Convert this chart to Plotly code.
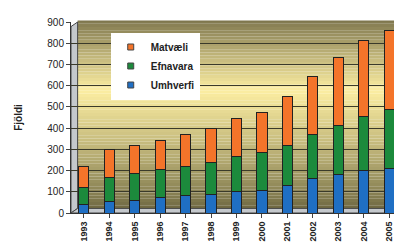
import plotly.graph_objects as go

years = ["1993", "1994", "1995", "1996", "1997", "1998", "1999", "2000",
         "2001", "2002", "2003", "2004", "2005"]
umhverfi = [40, 55, 60, 72, 82, 85, 103, 106, 128, 162, 182, 200, 208]
efnavara = [80, 113, 124, 135, 136, 155, 163, 179, 190, 206, 232, 256, 280]
matvaeli = [100, 132, 136, 137, 153, 160, 180, 190, 232, 275, 318, 355, 372]

series_names = ["Umhverfi", "Efnavara", "Matvæli"]
series_colors = ["#1f6fc4", "#1c8a3c", "#f4742a"]
y_ticks = [0, 100, 200, 300, 400, 500, 600, 700, 800, 900]

fig = go.Figure()
line = dict(color="#222222", width=1)
for name, vals, col in zip(series_names, [umhverfi, efnavara, matvaeli], series_colors):
    fig.add_trace(go.Bar(x=years, y=vals, name=name, showlegend=False,
                         marker=dict(color=col, line=line)))
for name, col in zip(series_names, series_colors):
    fig.add_trace(go.Scatter(x=[None], y=[None], mode="markers", name="<b>" + name + "</b>",
                             marker=dict(symbol="square", size=6, color=col,
                                         line=dict(color="#444", width=1))))

def lerp(c1, c2, t):
    return "#%02x%02x%02x" % tuple(int(round(a + (b - a) * t)) for a, b in zip(c1, c2))

top = (0x7c, 0x74, 0x4c)
mid = (0xfc, 0xee, 0xa2)
bot = (0x6c, 0x66, 0x40)
shapes = []
n = 60
for i in range(n):
    f0 = i / n
    f1 = (i + 1) / n
    fc = (f0 + f1) / 2
    midpos = 0.62
    if fc < midpos:
        col = lerp(bot, mid, (fc / midpos) ** 0.8)
    else:
        col = lerp(mid, top, ((fc - midpos) / (1 - midpos)) ** 1.0)
    shapes.append(dict(type="rect", xref="paper", yref="paper",
                       x0=0.02, x1=1.0, y0=f0 + 0.024, y1=min(f1 + 0.024, 1.0),
                       fillcolor=col, line=dict(width=0), layer="below"))
shapes.append(dict(type="path", xref="paper", yref="paper",
                   path="M 0,0 L 0.02,0.024 L 0.02,1.0 L 0,0.976 Z",
                   fillcolor="#c4c8cc", line=dict(color="#444", width=1), layer="below"))
shapes.append(dict(type="path", xref="paper", yref="paper",
                   path="M 0,0 L 0.02,0.024 L 1.0,0.024 L 0.98,0 Z",
                   fillcolor="#c4c8cc", line=dict(color="#444", width=1), layer="below"))

fig.update_layout(
    width=402, height=242,
    barmode="stack", bargap=0.6,
    margin=dict(l=63, r=8, t=14, b=25),
    paper_bgcolor="white", plot_bgcolor="rgba(0,0,0,0)",
    shapes=shapes,
    font=dict(family="Liberation Sans, Arial", color="#222", size=9),
    showlegend=True,
    legend=dict(x=0.12, y=0.945, xanchor="left", yanchor="top",
                bgcolor="white", traceorder="reversed",
                font=dict(size=10, color="#222", family="Liberation Sans, Arial"),
                itemwidth=30, tracegroupgap=0),
    xaxis=dict(tickangle=-90, showgrid=False, ticks="outside", ticklen=4,
               tickfont=dict(size=9, family="Liberation Sans, Arial"),
               showline=True, linecolor="#333"),
    yaxis=dict(range=[0, 900], tickvals=y_ticks, showgrid=True, gridcolor="#3a3a2a",
               gridwidth=1, ticks="outside", ticklen=4, showline=True, linecolor="#333",
               tickfont=dict(size=10, family="Liberation Sans, Arial"),
               title=dict(text="<b>Fjöldi</b>", font=dict(size=10), standoff=22),
               zeroline=False),
)
fig.update_xaxes(tickprefix="<b>", ticksuffix="</b>")
fig.update_yaxes(tickprefix="<b>", ticksuffix="</b>")

fig.write_html("out.html")
